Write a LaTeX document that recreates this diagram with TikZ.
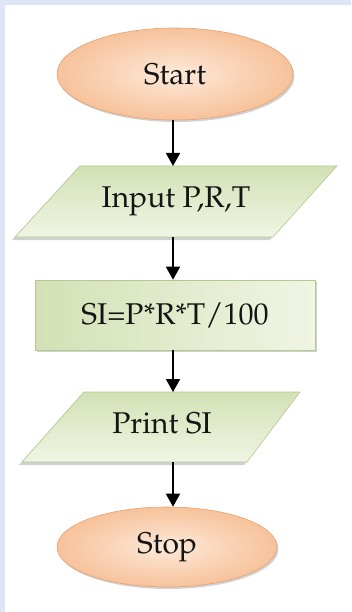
\documentclass[tikz,border=0pt]{standalone}
\usepackage[T1]{fontenc}
\usepackage{mathpazo}
\usetikzlibrary{shapes.geometric,shadows,arrows.meta}
\definecolor{frameblue}{HTML}{DCE6F4}
\definecolor{peach}{HTML}{F7C29A}
\definecolor{peachlight}{HTML}{FDE9DA}
\definecolor{peachedge}{HTML}{E6A273}
\definecolor{sage}{HTML}{D3E1B5}
\definecolor{sagelight}{HTML}{F0F5E4}
\definecolor{sageedge}{HTML}{B3C98E}
\tikzset{
  x=1pt, y=-1pt,
  txt/.style={font=\fontsize{30}{34}\selectfont, text=black!92},
  terminal/.style={ellipse, draw=peachedge, line width=0.6pt,
    inner color=peachlight, outer color=peach,
    drop shadow={shadow xshift=1.5pt, shadow yshift=-2pt, fill=black!35, opacity=0.5}, txt},
  io/.style={draw=sageedge, line width=0.6pt,
    top color=sage, bottom color=sagelight,
    drop shadow={shadow xshift=-3pt, shadow yshift=-3pt, fill=black!40, opacity=0.45}},
  process/.style={rectangle, draw=sageedge, line width=0.6pt,
    left color=sage, right color=sagelight,
    drop shadow={shadow xshift=2pt, shadow yshift=-2pt, fill=black!40, opacity=0.45}, txt},
  flow/.style={-{Triangle[length=13pt,width=14pt]}, line width=1.8pt, black}
}
\begin{document}
\begin{tikzpicture}
% page frame
\fill[frameblue] (0,0) rectangle (351,612);
\fill[white] (5,5) rectangle (351,612);
\useasboundingbox (0,0) rectangle (351,612);

% Start
\node[terminal, minimum width=236pt, minimum height=92pt] (start) at (175,74) {Start};

% Input P,R,T
\coordinate (inTL) at (80,166);
\coordinate (inTR) at (337,166);
\coordinate (inBR) at (273,237);
\coordinate (inBL) at (15,237);
\path[io] (inTL) -- (inTR) -- (inBR) -- (inBL) -- cycle;
\node[txt] (input) at (176,201) {Input P,R,T};
\coordinate (inTop) at (173,166);
\coordinate (inBot) at (173,237);

% SI computation
\node[process, minimum width=280pt, minimum height=70pt] (calc) at (175,315) {SI=P*R*T/100};

% Print SI
\coordinate (prTL) at (84,392);
\coordinate (prTR) at (300,392);
\coordinate (prBR) at (247,462);
\coordinate (prBL) at (22,462);
\path[io] (prTL) -- (prTR) -- (prBR) -- (prBL) -- cycle;
\node[txt] (print) at (162,423) {Print SI};
\coordinate (prTop) at (173,392);
\coordinate (prBot) at (173,462);

% Stop
\node[terminal, minimum width=220pt, minimum height=80pt] (stop) at (167,547) {Stop};

% connectors
\draw[flow] (start.south -| inTop) -- (inTop);
\draw[flow] (inBot) -- (calc.north -| inBot);
\draw[flow] (calc.south -| prTop) -- (prTop);
\draw[flow] (prBot) -- (prBot |- stop.north);
\end{tikzpicture}
\end{document}
